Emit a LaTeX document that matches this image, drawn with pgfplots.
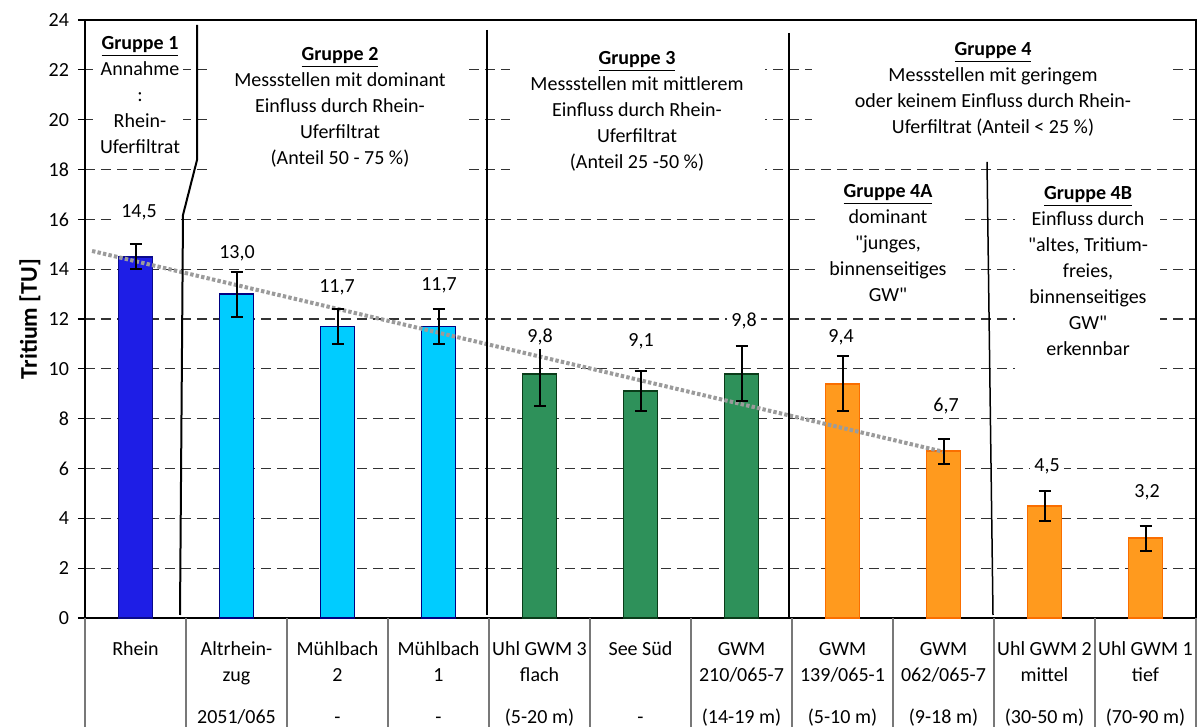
\documentclass[border=0pt]{standalone}
\usepackage{fontspec}
\setmainfont{Carlito}[Ligatures=TeXOff]
\usepackage{pgfplots}
\usepackage{pgfplotstable}
\pgfplotsset{compat=1.18}

\definecolor{rheinblue}{RGB}{30,30,230}
\definecolor{rheinedge}{RGB}{10,10,140}
\definecolor{cyanbar}{RGB}{0,204,255}
\definecolor{cyanedge}{RGB}{0,0,128}
\definecolor{greenbar}{RGB}{46,145,90}
\definecolor{greenedge}{RGB}{10,60,25}
\definecolor{orangebar}{RGB}{255,154,30}
\definecolor{orangeedge}{RGB}{250,110,0}
\definecolor{trendgray}{RGB}{155,155,155}
\definecolor{tablegray}{RGB}{120,120,120}

% Tritium per sampling point, with error
\pgfplotstableread{
x val err
0 14.5 0.5
1 13.0 0.9
2 11.7 0.7
3 11.7 0.7
4 9.8 1.3
5 9.1 0.8
6 9.8 1.1
7 9.4 1.1
8 6.7 0.5
9 4.5 0.6
10 3.2 0.5
}\tritium

% groups of bars
\pgfplotstableread{
x val
0 14.5
}\gruppeA
\pgfplotstableread{
x val
1 13.0
2 11.7
3 11.7
}\gruppeB
\pgfplotstableread{
x val
4 9.8
5 9.1
6 9.8
}\gruppeC
\pgfplotstableread{
x val
7 9.4
8 6.7
9 4.5
10 3.2
}\gruppeD

% value labels and where they sit
\pgfplotstableread{
lx ly lab
0.035 16.29 14,5
1.005 14.65 13,0
1.995 13.28 11,7
3.005 13.36 11,7
4.005 11.28 9,8
5.005 11.12 9,1
6.025 11.92 9,8
6.985 11.28 9,4
8.025 8.51 6,7
9.025 6.10 4,5
10.015 5.06 3,2
}\werte

% trend over groups 1 to 4A
\pgfplotstableread{
x y
-0.43 14.73
8.0 6.67
}\trend

\begin{document}
\begin{tikzpicture}[font=\fontsize{10}{13}\selectfont]
\useasboundingbox (-42.5pt,-54.5pt) rectangle (557pt,309pt);
\begin{axis}[
  at={(0,0)}, anchor=south west,
  scale only axis, width=555.5pt, height=299pt,
  xmin=-0.5, xmax=10.5, ymin=0, ymax=24,
  clip=false,
  axis line style={line width=1pt, black},
  ytick={0,2,...,24},
  ytick pos=left, tick align=outside,
  major tick length=3.5pt,
  ytick style={black, line width=0.6pt},
  yticklabel style={font=\fontsize{10}{12}\selectfont, xshift=-1pt},
  /pgf/number format/assume math mode=true,
  ymajorgrids,
  grid style={black!80, line width=0.6pt, dash pattern=on 5pt off 3pt},
  xtick={0,...,10},
  xtick style={draw=none},
  xticklabel style={align=center, anchor=north, inner sep=0pt, yshift=-6pt,
    font=\fontsize{10}{13}\selectfont},
  xticklabels={
    {\strut Rhein\\\strut\\[8pt]\strut},
    {\strut Altrhein-\\\strut zug\\[8pt]\strut 2051/065},
    {\strut Mühlbach\\\strut 2\\[8pt]\strut -},
    {\strut Mühlbach\\\strut 1\\[8pt]\strut -},
    {\strut Uhl GWM 3\\\strut flach\\[8pt]\strut (5-20 m)},
    {\strut See Süd\\\strut\\[8pt]\strut -},
    {\strut GWM\\\strut 210/065-7\\[8pt]\strut (14-19 m)},
    {\strut GWM\\\strut 139/065-1\\[8pt]\strut (5-10 m)},
    {\strut GWM\\\strut 062/065-7\\[8pt]\strut (9-18 m)},
    {\strut Uhl GWM 2\\\strut mittel\\[8pt]\strut (30-50 m)},
    {\strut Uhl GWM 1\\\strut tief\\[8pt]\strut (70-90 m)}},
  ylabel={Tritium [TU]},
  ylabel style={font=\bfseries\fontsize{12}{14}\selectfont,
    at={(axis description cs:-0.0495,0.5)}, anchor=center},
  every axis plot/.append style={line width=0.9pt},
]
\addplot[ybar, bar width=17pt, bar shift=0pt, fill=rheinblue, draw=rheinedge]
  table[x=x, y=val] {\gruppeA};
\addplot[ybar, bar width=17pt, bar shift=0pt, fill=cyanbar, draw=cyanedge]
  table[x=x, y=val] {\gruppeB};
\addplot[ybar, bar width=17pt, bar shift=0pt, fill=greenbar, draw=greenedge]
  table[x=x, y=val] {\gruppeC};
\addplot[ybar, bar width=17pt, bar shift=0pt, fill=orangebar, draw=orangeedge]
  table[x=x, y=val] {\gruppeD};

% linear trend
\addplot[trendgray, line width=2pt, dash pattern=on 1.7pt off 1.1pt, mark=none]
  table[x=x, y=y] {\trend};

% error bars
\addplot[draw=none, mark=none,
  error bars/.cd, y dir=both, y explicit,
  error bar style={draw=black, line width=1pt, solid},
  error mark options={rotate=90, mark size=3pt, draw=black, line width=1pt}]
  table[x=x, y=val, y error=err] {\tritium};

% value labels
\addplot[draw=none, mark=none, nodes near coords, point meta=explicit symbolic,
  every node near coord/.append style={anchor=center, fill=white, inner sep=2pt,
    text=black, font=\fontsize{10}{12}\selectfont}]
  table[x=lx, y=ly, meta=lab] {\werte};
\end{axis}

% table below the axis
\foreach \k in {0,...,11}
  \draw[tablegray, line width=0.6pt] ({\k*50.5pt},0) -- ({\k*50.5pt},-56pt);

% group captions
\fill[white] (4pt,295pt) rectangle (49pt,229pt);
\fill[white] (62.5pt,294pt) rectangle (191pt,216.5pt);
\fill[white] (212.5pt,294pt) rectangle (340pt,216.5pt);
\fill[white] (363.5pt,294pt) rectangle (542.5pt,236.5pt);
\fill[white] (367.5pt,221.5pt) rectangle (437.5pt,156.5pt);
\fill[white] (465pt,220pt) rectangle (537.5pt,121.5pt);

\node[align=center, anchor=north, inner sep=0pt] at (27.5pt,291.25pt)
  {\underline{\textbf{Gruppe 1}}\\Annahme\\:\\Rhein-\\Uferfiltrat};
\node[align=center, anchor=north, inner sep=0pt] at (127.5pt,285.75pt)
  {\underline{\textbf{Gruppe 2}}\\Messstellen mit dominant\\Einfluss durch Rhein-\\Uferfiltrat\\(Anteil 50 - 75 \%)};
\node[align=center, anchor=north, inner sep=0pt] at (276pt,283.75pt)
  {\underline{\textbf{Gruppe 3}}\\Messstellen mit mittlerem\\Einfluss durch Rhein-\\Uferfiltrat\\(Anteil 25 -50 \%)};
\node[align=center, anchor=north, inner sep=0pt] at (454pt,288.25pt)
  {\underline{\textbf{Gruppe 4}}\\Messstellen mit geringem\\oder keinem Einfluss durch Rhein-\\Uferfiltrat (Anteil < 25 \%)};
\node[align=center, anchor=north, inner sep=0pt] at (401.5pt,217.25pt)
  {\underline{\textbf{Gruppe 4A}}\\dominant\\"junges,\\binnenseitiges\\GW"};
\node[align=center, anchor=north, inner sep=0pt] at (501.5pt,216.25pt)
  {\underline{\textbf{Gruppe 4B}}\\Einfluss durch\\"altes, Tritium-\\freies,\\binnenseitiges\\GW"\\erkennbar};

% group dividers
\draw[black, line width=1pt] (56pt,296.5pt) -- (56pt,229pt) -- (49pt,201.5pt) -- (47.5pt,1.5pt);
\draw[black, line width=1.1pt] (201pt,294pt) -- (201pt,1.5pt);
\draw[black, line width=0.75pt] (352pt,292.5pt) -- (352pt,0pt);
\draw[black, line width=0.75pt] (451pt,228pt) -- (454pt,1.5pt);
\end{tikzpicture}
\end{document}
